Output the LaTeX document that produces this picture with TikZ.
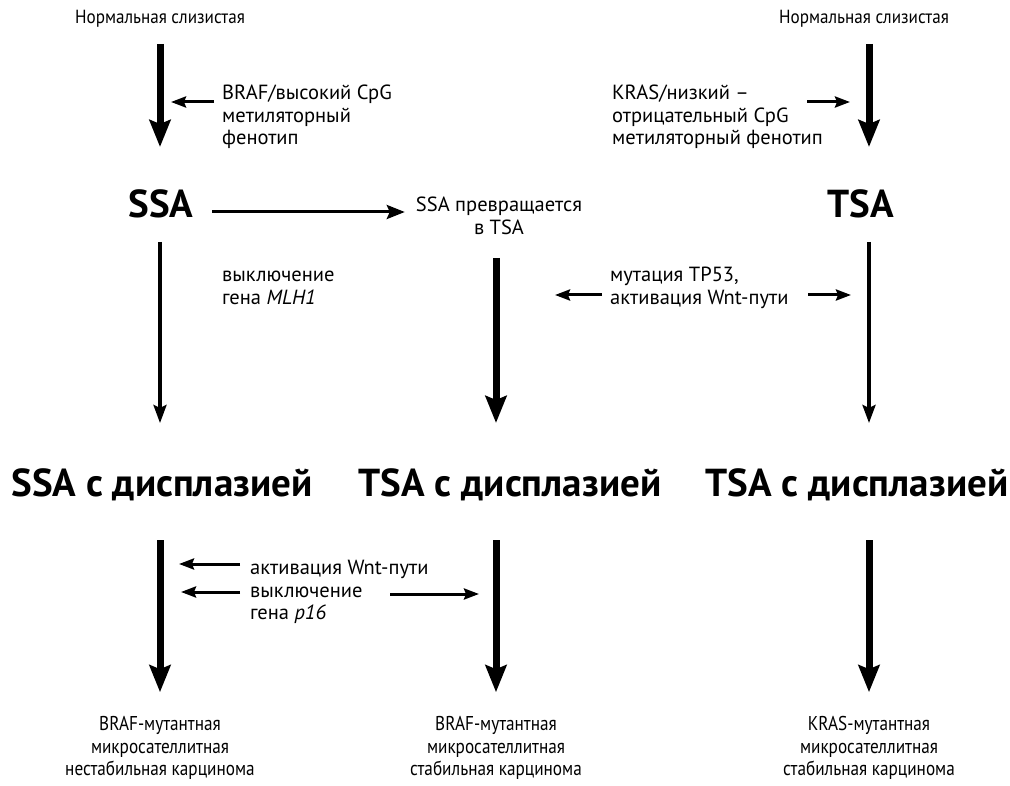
\documentclass[tikz,border=0pt]{standalone}
\usepackage{fontspec}
\setmainfont{PT Sans}
\newfontfamily\semifont[FakeStretch=0.9]{PT Sans}
\newfontfamily\narrowfont[FakeStretch=0.86]{PT Sans}
\usetikzlibrary{arrows.meta}

\begin{document}
\begin{tikzpicture}[x=1pt,y=-1pt,
    txt/.style={font=\fontsize{20.5}{22.5}\selectfont,inner sep=0pt},
    toptxt/.style={font=\semifont\fontsize{19}{22.5}\selectfont,inner sep=0pt},
    endtxt/.style={font=\narrowfont\fontsize{20}{22.5}\selectfont,inner sep=0pt,align=center},
    big/.style={font=\fontsize{39}{42}\selectfont\bfseries,inner sep=0pt},
    thickarr/.style={line width=7pt,-{Stealth[length=27pt,width=21pt,inset=4pt]}},
    thinarr/.style={line width=3.3pt,-{Stealth[length=18pt,width=13pt,inset=3pt]}},
    smallarr/.style={line width=3pt,-{Stealth[length=15pt,width=11pt,inset=2pt]}}]
  \useasboundingbox (0,0) rectangle (1010,786);

  % tops and headings
  \node[toptxt] (norm1) at (160,19) {Нормальная слизистая};
  \node[toptxt] (norm2) at (864,19) {Нормальная слизистая};
  \node[big] (ssa) at (161,204) {SSA};
  \node[big] (tsa) at (861,204) {TSA};
  \node[txt,align=center] (conv) at (499,216) {SSA превращается\\в TSA};
  \node[big] (dys1) at (162,485) {SSA с дисплазией};
  \node[big] (dys2) at (510,485) {TSA с дисплазией};
  \node[big] (dys3) at (857,485) {TSA с дисплазией};
  \node[endtxt] (car1) at (160,748) {BRAF-мутантная\\микросателлитная\\нестабильная карцинома};
  \node[endtxt] (car2) at (496,748) {BRAF-мутантная\\микросателлитная\\стабильная карцинома};
  \node[endtxt] (car3) at (869,748) {KRAS-мутантная\\микросателлитная\\стабильная карцинома};

  % side labels
  \node[txt,align=left,anchor=west] (lbBraf) at (222,117) {BRAF/высокий CpG\\метиляторный\\фенотип};
  \node[txt,align=left,anchor=west] (lbKras) at (612,117) {KRAS/низкий –\\отрицательный CpG\\метиляторный фенотип};
  \node[txt,align=left,anchor=west] (lbMlh) at (222,288) {выключение\\гена \textit{MLH1}};
  \node[txt,align=left,anchor=west] (lbTp) at (610,288) {мутация TP53,\\активация Wnt-пути};
  \node[txt,align=left,anchor=west] (lbWnt) at (250,592) {активация Wnt-пути\\выключение\\гена \textit{p16}};

  % main arrows
  \coordinate (colL) at (160,0);
  \coordinate (colM) at (496,0);
  \coordinate (colR) at (869,0);
  \draw[thickarr,shorten <=25pt,shorten >=57pt] (colL |- norm1) -- (colL |- ssa);
  \draw[thickarr,shorten <=25pt,shorten >=57pt] (colR |- norm2) -- (colR |- tsa);
  \draw[thinarr,shorten <=38pt,shorten >=62pt] (colL |- ssa) -- (colL |- dys1);
  \draw[thinarr,shorten <=38pt,shorten >=62pt] (colR |- tsa) -- (colR |- dys3);
  \draw[thickarr,shorten <=42pt,shorten >=62pt] (colM |- conv) -- (colM |- dys2);
  \draw[thickarr,shorten <=55pt,shorten >=24pt] (car1 |- dys1) -- (car1.north);
  \draw[thickarr,shorten <=55pt,shorten >=24pt] (car2 |- dys2) -- (car2.north);
  \draw[thickarr,shorten <=55pt,shorten >=24pt] (car3 |- dys3) -- (car3.north);
  \coordinate (convStart) at (212,212);
  \draw[line width=3pt,-{Stealth[length=18pt,width=14pt,inset=3pt]},shorten >=11pt]
    (convStart) -- (convStart -| conv.west);

  % side arrows
  \coordinate (brafTip) at (171,102);
  \coordinate (krasTip) at (850,102);
  \coordinate (tpTipL) at (555,295);
  \coordinate (tpTipR) at (851,295);
  \coordinate (wntTipA) at (179,564);
  \coordinate (wntTipB) at (181,592);
  \coordinate (wntTipC) at (479,594);
  \draw[smallarr] (214,102) -- (brafTip);
  \draw[smallarr] (807,102) -- (krasTip);
  \draw[smallarr] (602,295) -- (tpTipL);
  \draw[smallarr] (808,295) -- (tpTipR);
  \draw[smallarr] (240,564) -- (wntTipA);
  \draw[smallarr] (240,592) -- (wntTipB);
  \draw[smallarr] (390,594) -- (wntTipC);
\end{tikzpicture}
\end{document}
